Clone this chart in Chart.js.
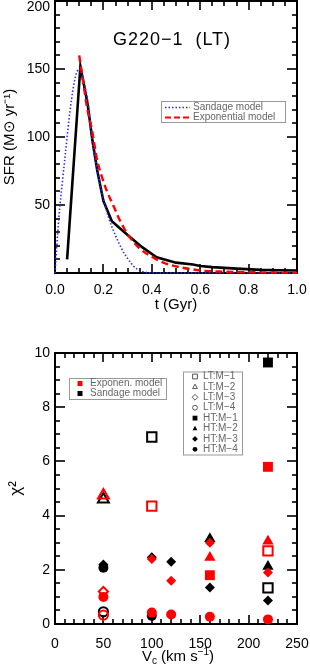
<!DOCTYPE html>
<html>
<head>
<meta charset="utf-8">
<script src="https://cdn.jsdelivr.net/npm/chart.js@4.4.1/dist/chart.umd.min.js"></script>
<style>
  html, body { margin: 0; padding: 0; background: #fff; }
  .panel { position: relative; width: 310px; }
  canvas { display: block; }
</style>
</head>
<body>
<div class="panel"><canvas id="sfrChart" width="310" height="330"></canvas></div>
<div class="panel"><canvas id="chiChart" width="310" height="336"></canvas></div>
<script>
// ---- top panel: SFR history of G220-1 (LT) ----
const sfrTime = [0.05, 0.105, 0.135, 0.155, 0.175, 0.2, 0.235, 0.3, 0.36, 0.42, 0.5, 0.57, 0.6, 0.65, 0.75, 0.85, 0.92, 1.0];
const sfrObs  = [10, 152, 124, 97, 75, 53, 38, 28, 19, 11.5, 7.6, 6.2, 5.2, 4.3, 3.2, 2.3, 2.0, 1.8];

const expTime = [0.1, 0.118, 0.132, 0.153, 0.173, 0.19, 0.215, 0.24, 0.27, 0.31, 0.35, 0.405, 0.45, 0.52, 0.62, 0.7, 0.8, 0.9, 1.0];
const expSfr  = [160, 139, 122, 105, 84, 73, 60, 50, 38, 26, 18, 11.5, 7.5, 4.1, 1.6, 1.0, 0.6, 0.35, 0.2];

const sandTime = [0, 0.006, 0.016, 0.03, 0.043, 0.064, 0.084, 0.1, 0.12, 0.139, 0.153, 0.17, 0.19, 0.221, 0.249, 0.275, 0.297, 0.32, 0.338, 0.36, 0.38, 0.45, 0.6, 0.8, 1.0];
const sandSfr  = [0, 16, 41, 66, 88, 122, 144, 150, 140, 122, 98, 80, 62, 41, 28, 18, 11.5, 6, 3, 1.2, 0.3, 0, 0, 0, 0];

const tTicks = [0, 0.2, 0.4, 0.6, 0.8, 1.0];
const sfrTicks = [50, 100, 150, 200];

// ---- bottom panel: chi^2 vs Vc, [Vc, chi2] pairs ----
const expLtM1 = [[100, 4.35], [220, 2.7]];
const expLtM2 = [[50, 4.75]];
const expLtM3 = [[50, 1.2]];
const expLtM4 = [[50, 0.33]];
const expHtM1 = [[160, 1.8], [220, 5.8]];
const expHtM2 = [[160, 2.45], [220, 3.05]];
const expHtM3 = [[100, 2.4], [120, 1.6], [160, 3.0], [220, 1.9]];
const expHtM4 = [[50, 1.0], [100, 0.42], [120, 0.35], [160, 0.27], [220, 0.17]];

const sanLtM1 = [[100, 6.9], [220, 1.33]];
const sanLtM2 = [[50, 4.6]];
const sanLtM4 = [[50, 0.45]];
const sanHtM1 = [[220, 9.65]];
const sanHtM2 = [[160, 3.15], [220, 2.12]];
const sanHtM3 = [[50, 2.2], [100, 2.46], [120, 2.3], [160, 1.35], [220, 0.87]];
const sanHtM4 = [[50, 2.08], [100, 0.3]];

const vcTicks = [0, 50, 100, 150, 200, 250];
const chiTicks = [0, 2, 4, 6, 8, 10];

const font = 'Liberation Sans, Arial, Helvetica, sans-serif';
const RED = '#ff0000';
const BLUE = '#2b2bff';

function toXY(xs, ys) {
  return xs.map((x, i) => ({ x: x, y: ys[i] }));
}

// IDL style frame: box all round, ticks pointing inwards on every side
function idlFrame(xMinor, xEvery, yMinor, yEvery) {
  return {
    id: 'idlFrame',
    beforeDatasetsDraw(chart) {
      const ctx = chart.ctx;
      const a = chart.chartArea;
      const xs = chart.scales.x, ys = chart.scales.y;
      const x0 = Number(xs.options.min), x1 = Number(xs.options.max);
      const y0 = Number(ys.options.min), y1 = Number(ys.options.max);
      ctx.save();
      ctx.fillStyle = '#000';
      let n = Math.round((x1 - x0) / xMinor);
      for (let i = 0; i <= n; i++) {
        const px = Math.round(xs.getPixelForValue(x0 + i * xMinor));
        const len = (i % xEvery === 0) ? 9 : 5;
        ctx.fillRect(px - 0.8, a.bottom - len, 1.6, len);
        ctx.fillRect(px - 0.8, a.top, 1.6, len);
      }
      n = Math.round((y1 - y0) / yMinor);
      for (let i = 0; i <= n; i++) {
        const py = Math.round(ys.getPixelForValue(y0 + i * yMinor));
        const len = (i % yEvery === 0) ? 10 : 5;
        ctx.fillRect(a.left, py - 0.8, len, 1.6);
        ctx.fillRect(a.right - len, py - 0.8, len, 1.6);
      }
      ctx.strokeStyle = '#000';
      ctx.lineWidth = 2;
      ctx.strokeRect(a.left, a.top, a.right - a.left, a.bottom - a.top);
      ctx.restore();
    }
  };
}

function fixArea(w, h) {
  return {
    y: s => { s.width = w; s.paddingTop = 0; s.paddingBottom = 0; },
    x: s => { s.height = h; s.paddingLeft = 0; s.paddingRight = 0; }
  };
}

const tickFont = { family: font, size: 14 };
const titleFont = { family: font, size: 15 };

// ---------- top chart ----------
const sfrDecor = {
  id: 'sfrDecor',
  afterDraw(chart) {
    const ctx = chart.ctx;
    const y = chart.scales.y;
    ctx.save();
    // top tick label kept inside the canvas, as in the figure
    ctx.fillStyle = '#000';
    ctx.font = '14px ' + font;
    ctx.textAlign = 'right';
    ctx.textBaseline = 'middle';
    ctx.fillText(String(sfrTicks[sfrTicks.length - 1]), 50, Math.max(y.getPixelForValue(200), 7));

    ctx.textAlign = 'center';
    ctx.font = '18px ' + font;
    if ('letterSpacing' in ctx) ctx.letterSpacing = '1px';
    ctx.fillText('G220\u22121  (LT)', 172, 40);
    if ('letterSpacing' in ctx) ctx.letterSpacing = '0px';

    // legend box
    ctx.strokeStyle = '#999';
    ctx.lineWidth = 1;
    ctx.strokeRect(161.5, 101.5, 124, 21);
    ctx.lineWidth = 1.6;
    ctx.strokeStyle = BLUE;
    ctx.setLineDash([1.5, 2]);
    ctx.beginPath(); ctx.moveTo(165, 107.5); ctx.lineTo(190, 107.5); ctx.stroke();
    ctx.lineWidth = 2.2;
    ctx.strokeStyle = RED;
    ctx.setLineDash([6, 3]);
    ctx.beginPath(); ctx.moveTo(165, 117.5); ctx.lineTo(190, 117.5); ctx.stroke();
    ctx.setLineDash([]);
    ctx.fillStyle = '#666';
    ctx.font = '10px ' + font;
    ctx.textAlign = 'left';
    ctx.fillText('Sandage model', 193, 107.5);
    ctx.fillText('Exponential model', 193, 117.5);
    ctx.restore();
  }
};

const topFit = fixArea(55, 57);
new Chart(document.getElementById('sfrChart'), {
  type: 'scatter',
  data: {
    datasets: [
      {
        label: 'Exponential model',
        data: toXY(expTime, expSfr),
        showLine: true,
        borderColor: RED,
        borderWidth: 2.4,
        borderDash: [7, 4],
        pointRadius: 0,
        cubicInterpolationMode: 'monotone',
        clip: false
      },
      {
        label: 'Sandage model',
        data: toXY(sandTime, sandSfr),
        showLine: true,
        borderColor: BLUE,
        borderWidth: 1.6,
        borderDash: [1.5, 2],
        pointRadius: 0,
        cubicInterpolationMode: 'monotone',
        clip: false
      },
      {
        label: 'SFR',
        data: toXY(sfrTime, sfrObs),
        showLine: true,
        borderColor: '#000',
        borderWidth: 2.6,
        pointRadius: 0,
        tension: 0,
        clip: false
      }
    ]
  },
  options: {
    responsive: false,
    animation: false,
    layout: { padding: { top: 1, right: 13, left: 0, bottom: 0 } },
    plugins: {
      legend: { display: false },
      tooltip: { enabled: false }
    },
    scales: {
      x: {
        type: 'linear',
        min: 0,
        max: 1,
        afterFit: topFit.x,
        afterBuildTicks: s => { s.ticks = tTicks.map(v => ({ value: v })); },
        grid: { display: false, drawTicks: false },
        border: { display: false },
        ticks: {
          padding: 9,
          color: '#000',
          font: tickFont,
          maxRotation: 0,
          autoSkip: false,
          callback: v => Number(v).toFixed(1)
        },
        title: { display: true, text: 't (Gyr)', color: '#000', font: titleFont, padding: { top: 0, bottom: 16 } }
      },
      y: {
        min: 0,
        max: 200,
        afterFit: topFit.y,
        afterBuildTicks: s => { s.ticks = sfrTicks.map(v => ({ value: v })); },
        grid: { display: false, drawTicks: false },
        border: { display: false },
        ticks: {
          padding: 5,
          color: '#000',
          font: tickFont,
          callback: v => (v === 200 ? '' : String(v))
        },
        title: { display: true, text: 'SFR (M\u2299 yr\u207B\u00B9)', color: '#000', font: titleFont, padding: { top: 1, bottom: 0 } }
      }
    }
  },
  plugins: [idlFrame(0.05, 4, 10, 5), sfrDecor]
});

// ---------- bottom chart ----------
function marker(ctx, style, x, y, r, fill, color) {
  ctx.beginPath();
  if (style === 'rect') {
    ctx.rect(x - r, y - r, 2 * r, 2 * r);
  } else if (style === 'triangle') {
    ctx.moveTo(x, y - r * 1.15);
    ctx.lineTo(x + r, y + r * 0.7);
    ctx.lineTo(x - r, y + r * 0.7);
    ctx.closePath();
  } else if (style === 'rectRot') {
    ctx.moveTo(x, y - r * 1.2); ctx.lineTo(x + r * 1.2, y);
    ctx.lineTo(x, y + r * 1.2); ctx.lineTo(x - r * 1.2, y);
    ctx.closePath();
  } else {
    ctx.arc(x, y, r, 0, Math.PI * 2);
  }
  if (fill) { ctx.fillStyle = color; ctx.fill(); }
  else { ctx.strokeStyle = color; ctx.lineWidth = 1; ctx.stroke(); }
}

const keyRows = [
  ['LT:M\u22121', 'rect', false], ['LT:M\u22122', 'triangle', false],
  ['LT:M\u22123', 'rectRot', false], ['LT:M\u22124', 'circle', false],
  ['HT:M\u22121', 'rect', true], ['HT:M\u22122', 'triangle', true],
  ['HT:M\u22123', 'rectRot', true], ['HT:M\u22124', 'circle', true]
];

const chiDecor = {
  id: 'chiDecor',
  afterDraw(chart) {
    const ctx = chart.ctx;
    ctx.save();
    // model legend
    ctx.strokeStyle = '#999';
    ctx.lineWidth = 1;
    ctx.strokeRect(69.5, 48.5, 97, 21);
    ctx.fillStyle = RED; ctx.fillRect(77.5, 51, 5, 5);
    ctx.fillStyle = '#000'; ctx.fillRect(77.5, 61, 5, 5);
    ctx.fillStyle = '#666';
    ctx.font = '10px ' + font;
    ctx.textBaseline = 'middle';
    ctx.fillText('Exponen. model', 90, 53.5);
    ctx.fillText('Sandage model', 90, 63.5);

    // symbol legend
    ctx.strokeStyle = '#999';
    ctx.lineWidth = 1;
    ctx.strokeRect(183.5, 42, 59, 83);
    keyRows.forEach((row, i) => {
      const yy = 46.5 + i * 10.4;
      marker(ctx, row[1], 195, yy, 2.4, row[2], row[2] ? '#000' : '#555');
      ctx.fillStyle = '#666';
      ctx.fillText(row[0], 203, yy);
    });

    // x title with sub/superscripts
    const parts = [['V', 15, 0], ['c', 10, 4], [' (km s', 15, 0], ['\u22121', 10, -5], [')', 15, 0]];
    let total = 0;
    parts.forEach(p => { ctx.font = p[1] + 'px ' + font; total += ctx.measureText(p[0]).width; });
    let px = 178 - total / 2;
    ctx.fillStyle = '#000';
    ctx.textAlign = 'left';
    parts.forEach(p => {
      ctx.font = p[1] + 'px ' + font;
      ctx.fillText(p[0], px, 327 + p[2]);
      px += ctx.measureText(p[0]).width;
    });
    ctx.restore();
  }
};

function ptSet(pairs, style, r, color, open, label) {
  return {
    label: label,
    data: pairs.map(p => ({ x: p[0], y: p[1] })),
    pointStyle: style,
    pointRadius: r,
    backgroundColor: open ? 'rgba(0,0,0,0)' : color,
    borderColor: color,
    borderWidth: open ? 2 : 0,
    showLine: false,
    clip: false
  };
}

const botFit = fixArea(55, 42);
new Chart(document.getElementById('chiChart'), {
  type: 'scatter',
  data: {
    datasets: [
      ptSet(expHtM4, 'circle', 5, RED, false, 'Exp HT:M-4'),
      ptSet(expLtM4, 'circle', 4.6, RED, true, 'Exp LT:M-4'),
      ptSet(expHtM3, 'rectRot', 5, RED, false, 'Exp HT:M-3'),
      ptSet(expLtM3, 'rectRot', 4.6, RED, true, 'Exp LT:M-3'),
      ptSet(expHtM2, 'triangle', 6.5, RED, false, 'Exp HT:M-2'),
      ptSet(expLtM2, 'triangle', 6.3, RED, true, 'Exp LT:M-2'),
      ptSet(expHtM1, 'rect', 7, RED, false, 'Exp HT:M-1'),
      ptSet(expLtM1, 'rect', 6.6, RED, true, 'Exp LT:M-1'),
      ptSet(sanHtM4, 'circle', 5, '#000', false, 'San HT:M-4'),
      ptSet(sanLtM4, 'circle', 4.6, '#000', true, 'San LT:M-4'),
      ptSet(sanHtM3, 'rectRot', 5, '#000', false, 'San HT:M-3'),
      ptSet(sanHtM2, 'triangle', 6.5, '#000', false, 'San HT:M-2'),
      ptSet(sanLtM2, 'triangle', 6.3, '#000', true, 'San LT:M-2'),
      ptSet(sanHtM1, 'rect', 7, '#000', false, 'San HT:M-1'),
      ptSet(sanLtM1, 'rect', 6.6, '#000', true, 'San LT:M-1')
    ]
  },
  options: {
    responsive: false,
    animation: false,
    layout: { padding: { top: 23, right: 13, left: 0, bottom: 0 } },
    plugins: {
      legend: { display: false },
      tooltip: { enabled: false }
    },
    scales: {
      x: {
        type: 'linear',
        min: 0,
        max: 250,
        afterFit: botFit.x,
        afterBuildTicks: s => { s.ticks = vcTicks.map(v => ({ value: v })); },
        grid: { display: false, drawTicks: false },
        border: { display: false },
        ticks: { padding: 12, color: '#000', font: tickFont, maxRotation: 0, autoSkip: false },
        title: { display: false }
      },
      y: {
        min: 0,
        max: 10,
        afterFit: botFit.y,
        afterBuildTicks: s => { s.ticks = chiTicks.map(v => ({ value: v })); },
        grid: { display: false, drawTicks: false },
        border: { display: false },
        ticks: { padding: 5, color: '#000', font: tickFont },
        title: { display: true, text: '\u03C7\u00B2', color: '#000', font: { family: font, size: 17 }, padding: { top: 6, bottom: 0 } }
      }
    }
  },
  plugins: [idlFrame(10, 5, 0.5, 4), chiDecor]
});
</script>
</body>
</html>
